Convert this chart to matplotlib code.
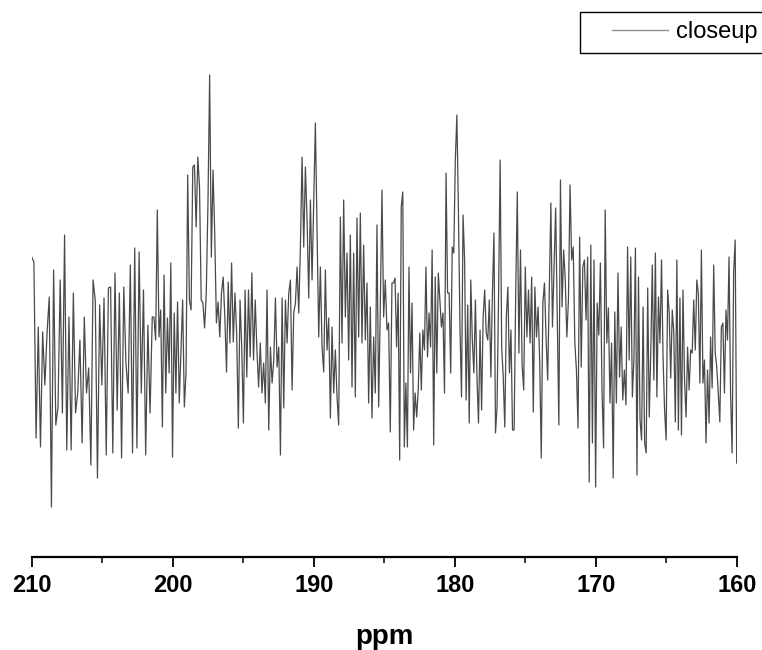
import numpy as np
import matplotlib
matplotlib.use("Agg")
import matplotlib.pyplot as plt
from matplotlib.lines import Line2D
from matplotlib.legend_handler import HandlerLine2D

# segment boundaries along the ppm axis (data read in six consecutive windows)
seg_bounds_ppm = [210.0, 201.45, 192.95, 184.45, 175.9, 167.4, 160.0]

# intensities (arbitrary units), window by window
seg1 = [300, 295, 119, 230, 110, 225, 172, 224, 260, 50, 287, 132, 150, 277, 144, 322,
        107, 240, 107, 264, 144, 164, 217, 114, 240, 164, 189, 92, 277, 257, 79, 252,
        172, 259, 102, 269, 270, 104, 284, 147, 264, 99, 270, 194, 164, 292, 104, 309,
        109, 305, 164, 267, 102, 232, 144, 240]
seg2 = [240, 217, 347, 220, 247, 130, 282, 164, 239, 184, 294, 100, 244, 164, 255, 154,
        204, 257, 150, 184, 382, 257, 247, 390, 392, 330, 400, 370, 257, 254, 229, 264,
        354, 482, 300, 387, 324, 234, 255, 220, 264, 280, 240, 185, 275, 214, 294, 215,
        264, 224, 129, 257, 210, 134, 267, 180, 267, 200, 284, 197, 257, 207, 170, 214,
        164, 194, 154, 267, 127, 210, 174]
seg3 = [197, 259, 190, 210, 102, 259, 149, 257, 214, 264, 277, 167, 244, 254, 290, 244,
        310, 400, 310, 390, 337, 259, 357, 277, 354, 434, 327, 220, 290, 210, 185, 287,
        207, 239, 139, 230, 164, 207, 160, 132, 340, 214, 357, 240, 304, 197, 322, 170,
        304, 160, 339, 220, 344, 214, 312, 217, 274, 154, 250, 139, 220, 164, 332, 150,
        250, 367, 240, 277, 227, 234, 125, 274]
seg4 = [274, 279, 210, 264, 97, 350, 365, 110, 174, 110, 290, 184, 254, 127, 164, 140,
        167, 224, 167, 227, 207, 290, 200, 244, 210, 307, 112, 280, 184, 284, 257, 230,
        244, 164, 384, 264, 264, 184, 310, 304, 397, 442, 347, 230, 160, 342, 297, 157,
        252, 134, 277, 217, 184, 257, 180, 134, 227, 147, 240, 267, 224, 217, 257, 180,
        264, 324, 124, 150, 264, 397, 210, 180, 130, 240, 270, 184, 227, 127]
seg5 = [127, 264, 365, 204, 307, 192, 167, 290, 220, 267, 214, 280, 145, 270, 220, 250,
        197, 99, 254, 274, 220, 177, 264, 354, 230, 290, 349, 244, 132, 377, 250, 307,
        277, 220, 257, 372, 297, 310, 214, 187, 129, 320, 190, 290, 297, 237, 300, 75,
        312, 114, 297, 70, 254, 222, 294, 167, 109, 347, 214, 249, 154, 214, 79, 245,
        154, 284, 180, 230, 157, 187, 152, 310, 197, 300, 160]
seg6 = [197, 309, 82, 280, 137, 117, 250, 114, 104, 269, 140, 204, 292, 177, 304, 160,
        260, 214, 297, 200, 147, 117, 267, 244, 179, 247, 224, 135, 297, 127, 259, 122,
        267, 177, 140, 210, 167, 207, 204, 257, 207, 277, 264, 174, 307, 174, 197, 114,
        187, 134, 220, 169, 292, 204, 190, 164, 135, 230, 234, 164, 247, 217, 300, 164,
        104, 284, 317, 94]

segments = [seg1, seg2, seg3, seg4, seg5, seg6]

major_ticks = [210, 200, 190, 180, 170, 160]
minor_ticks = [205, 195, 185, 175, 165]
legend_label = "closeup"
x_label = "ppm"

# assemble the spectrum
ppm_parts, int_parts = [], []
for k, seg in enumerate(segments):
    p = np.linspace(seg_bounds_ppm[k], seg_bounds_ppm[k + 1], len(seg) + (0 if k == 0 else 1))
    if k > 0:
        p = p[1:]
    ppm_parts.append(p)
    int_parts.append(np.array(seg, dtype=float))
ppm = np.concatenate(ppm_parts)
intensity = np.concatenate(int_parts)

plt.rcParams['font.family'] = ['Liberation Sans', 'DejaVu Sans']

W, H = 762, 650
fig = plt.figure(figsize=(W / 100, H / 100), dpi=100)
ax = fig.add_axes([31.7 / W, (H - 557) / H, (736.7 - 31.7) / W, 557 / H])

ax.plot(ppm, intensity, color='#4a4a4a', linewidth=0.9, label=legend_label)

ax.set_xlim(210, 160)
ax.set_ylim(0, 557)

for s in ['top', 'right', 'left']:
    ax.spines[s].set_visible(False)
ax.spines['bottom'].set_linewidth(1.6)
ax.set_yticks([])
ax.set_xticks(major_ticks)
ax.set_xticks(minor_ticks, minor=True)
ax.tick_params(axis='x', which='major', direction='out', length=7.5, width=1.3,
               labelsize=17, pad=5)
ax.tick_params(axis='x', which='minor', direction='out', length=4.5, width=1.1)
for lbl in ax.get_xticklabels():
    lbl.set_fontweight('bold')
ax.set_xlabel(x_label, fontsize=20, fontweight='bold', labelpad=19)


class OffsetLineHandler(HandlerLine2D):
    """Legend handle whose line occupies only the right part of the handle box."""
    def create_artists(self, legend, orig_handle, xdescent, ydescent, width, height,
                       fontsize, trans):
        y = height / 2.0 - ydescent
        xs = [-xdescent + width * 0.28, -xdescent + width]
        ln = Line2D(xs, [y, y], color=orig_handle.get_color(),
                    linewidth=orig_handle.get_linewidth())
        ln.set_transform(trans)
        return [ln]


leg_line = Line2D([], [], color='#909090', linewidth=1.0)
fig.legend([leg_line], [legend_label], loc='upper right',
           bbox_to_anchor=(767 / W, 1 - 12 / H), borderaxespad=0,
           fancybox=False, framealpha=1, edgecolor='black', fontsize=17,
           handlelength=3.3, borderpad=0.4, handletextpad=0.35,
           handler_map={Line2D: OffsetLineHandler()})

fig.savefig('out.png', dpi=100)
